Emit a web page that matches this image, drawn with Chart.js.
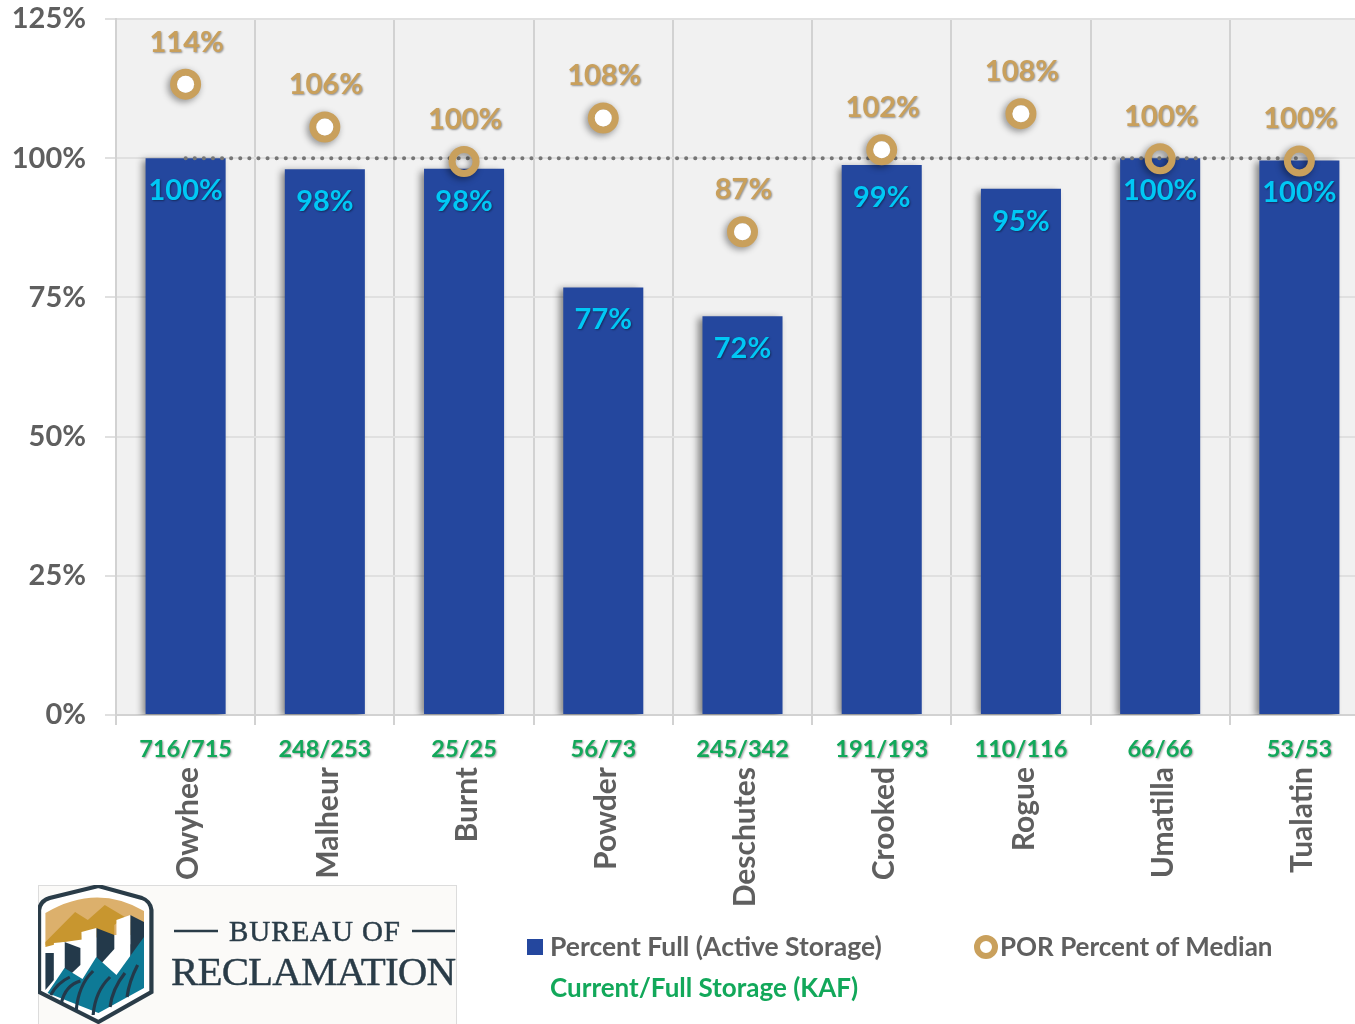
<!DOCTYPE html>
<html>
<head>
<meta charset="utf-8">
<script src="https://cdn.jsdelivr.net/npm/chart.js@4"></script>
<style>
  html, body { margin: 0; padding: 0; background: #fff; overflow: hidden; }
  #page { position: relative; width: 1355px; height: 1024px; overflow: hidden; font-family: Lato, sans-serif; filter: blur(0.6px); }
  #chart { position: absolute; left: 0; top: 0; }
  .legend { position: absolute; font-size: 26.5px; font-weight: 700; color: #5f5f5f; white-space: nowrap; line-height: 30px; }
  #logo { position: absolute; left: 38px; top: 885px; width: 419px; height: 139px; }
</style>
</head>
<body>
<div id="page">
  <canvas id="chart"></canvas>
  <svg id="logo" viewBox="0 0 419 139">
    <rect x="0.5" y="0.5" width="418" height="139" fill="#fbfaf8" stroke="#dcdcdc"/>
    <g transform="scale(1.06,1)">
      <path d="M57 1 L98 13 Q106 16 107 25 L107 107 L57 137 L1 107 L1 25 Q2 16 11 13 Z" fill="#fff" stroke="#2a3c48" stroke-width="4"/>
      <path d="M7 58 L7 28 Q55 -2 100 26 L100 50 L60 50 L7 60 Z" fill="#dcb06c"/>
      <path d="M7 57 L35 27 L47 35 L63 20 L82 32 L72 40 L72 50 L25 57 L7 62 Z" fill="#c8962f"/>
      <path d="M7 68 L15 68 L15 95 L7 105 Z" fill="#23394a"/>
      <path d="M25 57 L40 63 L40 80 L25 95 Z" fill="#23394a"/>
      <path d="M15 58 L25 57 L25 92 L15 102 Z" fill="#fff"/>
      <path d="M55 43 L72 50 L72 64 L55 84 Z" fill="#23394a"/>
      <path d="M41 47 L55 43 L55 74 L42 94 Z" fill="#fff"/>
      <path d="M87 30 L100 37 L100 54 L87 74 Z" fill="#23394a"/>
      <path d="M74 35 L87 30 L87 59 L74 90 Z" fill="#fff"/>
      <path d="M9 108 L25 83 L42 94 L55 72 L74 90 L100 52 L100 103 L57 128 Z" fill="#0e7a96"/>
      <path d="M12 110 Q18 98 30 92 M22 118 Q26 100 40 96 M36 126 Q38 100 52 86 M52 130 Q54 106 68 92 M68 122 Q70 104 82 88 M84 112 Q86 96 94 80" stroke="#23394a" stroke-width="3" fill="none"/>
    </g>
    <line x1="136" y1="46" x2="180" y2="46" stroke="#2a3c48" stroke-width="2.5"/>
    <line x1="374" y1="46" x2="417" y2="46" stroke="#2a3c48" stroke-width="2.5"/>
    <text x="191" y="56" font-family="Liberation Serif" font-size="29" stroke="#2a3c48" stroke-width="0.5" fill="#2a3c48" textLength="171">BUREAU OF</text>
    <text x="133" y="100" font-family="Liberation Serif" font-size="41" stroke="#2a3c48" stroke-width="0.4" fill="#2a3c48" textLength="285">RECLAMATION</text>
  </svg>
  <svg class="legend" style="left:527px;top:939px;width:16px;height:16px"><rect width="16" height="16" fill="#24479e"/></svg>
  <div class="legend" style="left:550px;top:931px">Percent Full (Active Storage)</div>
  <svg class="legend" style="left:973px;top:934px;width:26px;height:26px"><circle cx="13" cy="13" r="9" fill="#fff" stroke="#c9a05c" stroke-width="6"/></svg>
  <div class="legend" style="left:1000px;top:931px;font-size:26px">POR Percent of Median</div>
  <div class="legend" style="left:550px;top:972px;color:#12a85a;font-size:26px">Current/Full Storage (KAF)</div>
</div>
<script>
// values
const reservoirs = ["Owyhee", "Malheur", "Burnt", "Powder", "Deschutes", "Crooked", "Rogue", "Umatilla", "Tualatin"];
const storageLabels = ["716/715", "248/253", "25/25", "56/73", "245/342", "191/193", "110/116", "66/66", "53/53"];
const percentFull = [100, 98, 98, 77, 72, 99, 95, 100, 100];
const percentOfMedian = [114, 106, 100, 108, 87, 102, 108, 100, 100];
const medianDrawn = [113.3, 105.6, 99.4, 107.2, 86.8, 101.5, 108, 99.9, 99.5];
const fullDrawn = [100, 98, 98.1, 76.8, 71.6, 98.8, 94.5, 100, 99.6];
const referenceLine = [100, 100, 100, 100, 100, 100, 100, 100, 100];

const FONT = "Lato, sans-serif";

const plotBackground = {
  id: "plotBackground",
  beforeDraw(chart) {
    const { ctx, chartArea: a } = chart;
    ctx.save();
    ctx.fillStyle = "#f1f1f1";
    ctx.fillRect(a.left, a.top, a.right - a.left, a.bottom - a.top);
    ctx.restore();
  }
};

// bars and markers get the soft drop shadow of the original
const markShadow = {
  id: "markShadow",
  beforeDatasetDraw(chart, args) {
    const ctx = chart.ctx;
    ctx.save();
    if (args.index === 1) return;
    ctx.shadowColor = "rgba(0,0,0,.45)";
    ctx.shadowBlur = 7;
    ctx.shadowOffsetX = args.index === 2 ? -4 : -2;
    ctx.shadowOffsetY = 2;
  },
  afterDatasetDraw(chart, args) {
    const ctx = chart.ctx;
    ctx.restore();
    if (args.index !== 0) return;
    // ring centres are white, except where a ring sits on the top of its bar
    ctx.save();
    ctx.fillStyle = "#ffffff";
    args.meta.data.forEach((pt, i) => {
      if (medianDrawn[i] - fullDrawn[i] < 2) return;
      ctx.beginPath();
      ctx.arc(pt.x, pt.y, 8.5, 0, Math.PI * 2);
      ctx.fill();
    });
    ctx.restore();
  }
};

function shadowText(ctx, text, x, y, color) {
  ctx.shadowColor = "rgba(0,0,0,.4)";
  ctx.shadowBlur = 2;
  ctx.shadowOffsetX = 1;
  ctx.shadowOffsetY = 1;
  ctx.fillStyle = color;
  ctx.fillText(text, x, y);
}

const valueLabels = {
  id: "valueLabels",
  afterDraw(chart) {
    const { ctx, scales } = chart;
    const bars = chart.getDatasetMeta(2).data;
    const points = chart.getDatasetMeta(0).data;
    ctx.save();
    ctx.textAlign = "center";
    ctx.textBaseline = "middle";
    ctx.font = "700 29px " + FONT;
    bars.forEach((bar, i) => shadowText(ctx, percentFull[i] + "%", bar.x, bar.y + 32.5, "#00c8f5"));
    points.forEach((pt, i) => shadowText(ctx, percentOfMedian[i] + "%", pt.x + 1, pt.y - 42, "#c9a05c"));
    ctx.font = "700 23.5px " + FONT;
    storageLabels.forEach((s, i) => shadowText(ctx, s, scales.x.getPixelForTick(i), 749, "#12a85a"));
    ctx.restore();
  }
};

// wider than the window: the last category is cut off by the page edge, as in the original
const canvas = document.getElementById("chart");
canvas.width = 1388;
canvas.height = 1024;

new Chart(canvas, {
  data: {
    labels: reservoirs,
    datasets: [
      {
        type: "line",
        label: "POR Percent of Median",
        data: medianDrawn,
        showLine: false,
        pointRadius: 12,
        pointBorderWidth: 7,
        pointBackgroundColor: "rgba(0,0,0,0)",
        pointBorderColor: "#c9a05c",
        order: 1
      },
      {
        type: "line",
        label: "100%",
        data: referenceLine,
        borderColor: "#767676",
        borderWidth: 4,
        borderCapStyle: "round",
        borderDash: [0.1, 9],
        pointRadius: 0,
        order: 2
      },
      {
        type: "bar",
        label: "Percent Full (Active Storage)",
        data: fullDrawn,
        backgroundColor: "#24479e",
        barPercentage: 0.575,
        categoryPercentage: 1,
        order: 3
      }
    ]
  },
  plugins: [plotBackground, markShadow, valueLabels],
  options: {
    responsive: false,
    animation: false,
    layout: { padding: { top: 18 } },
    plugins: { legend: { display: false }, tooltip: { enabled: false } },
    scales: {
      x: {
        grid: { color: "#d2d2d2", lineWidth: 2, tickLength: 10 },
        border: { color: "#d2d2d2", width: 2 },
        afterFit: s => { s.height = 309; },
        ticks: {
          autoSkip: false,
          minRotation: 90,
          maxRotation: 90,
          padding: 42,
          labelOffset: 3,
          color: "#5f5f5f",
          font: { family: FONT, size: 30, weight: "700" }
        }
      },
      y: {
        min: 0,
        max: 125,
        afterFit: s => { s.width = 116; s.paddingTop = 0; s.paddingBottom = 0; },
        grid: { color: "#e0e0e0", lineWidth: 2, tickLength: 11 },
        border: { color: "#d2d2d2", width: 2 },
        ticks: {
          stepSize: 25,
          padding: 19,
          callback: v => v + "%",
          color: "#5f5f5f",
          font: { family: FONT, size: 29, weight: "700" }
        }
      }
    }
  }
});
</script>
</body>
</html>
